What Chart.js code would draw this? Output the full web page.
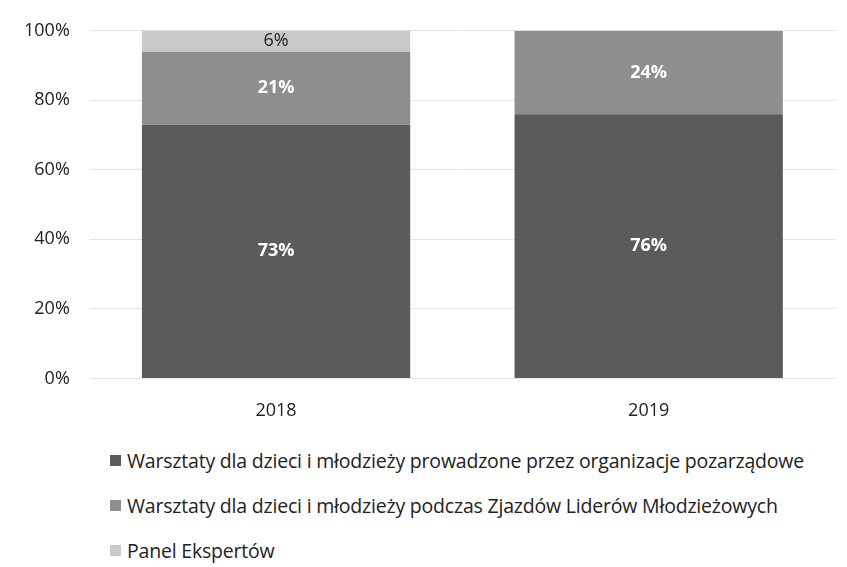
<!DOCTYPE html>
<html>
<head>
<meta charset="utf-8">
<script src="https://cdn.jsdelivr.net/npm/chart.js@4/dist/chart.umd.min.js"></script>
<style>
  body { margin: 0; background: #fff; width: 847px; height: 567px; overflow: hidden; }
  #wrap { position: absolute; left: 0; top: 0; width: 847px; height: 436px; }
  #legend { position: absolute; left: 110px; top: 447px; font-family: "Open Sans", sans-serif; font-size: 19.5px; color: #222; letter-spacing: -0.2px; }
  #legend div { height: 45px; display: flex; align-items: flex-start; }
  #legend span.box { display: inline-block; width: 11px; height: 11px; margin: 8px 6px 0 0; }
</style>
</head>
<body>
<div id="wrap"><canvas id="chart"></canvas></div>
<div id="legend"></div>
<script>
// dane wykresu
const years = ['2018', '2019'];
const seriesNames = [
  'Warsztaty dla dzieci i młodzieży prowadzone przez organizacje pozarządowe',
  'Warsztaty dla dzieci i młodzieży podczas Zjazdów Liderów Młodzieżowych',
  'Panel Ekspertów'
];
const warsztatyNgo = [73, 76];
const warsztatyZjazdy = [21, 24];
const panelEkspertow = [6, 0];
const yTicks = [0, 20, 40, 60, 80, 100];

const colors = ['#5b5b5b', '#8e8e8e', '#c9c9c9'];
const labelColors = ['#ffffff', '#ffffff', '#222222'];
const labelWeights = ['bold', 'bold', 'normal'];

// etykiety wartości na słupkach
const valueLabels = {
  id: 'valueLabels',
  afterDatasetsDraw(chart) {
    const ctx = chart.ctx;
    chart.data.datasets.forEach((ds, i) => {
      const meta = chart.getDatasetMeta(i);
      meta.data.forEach((bar, j) => {
        const v = ds.data[j];
        if (!v) return;
        const mid = (bar.y + bar.base) / 2;
        ctx.save();
        ctx.font = labelWeights[i] + ' 18px "Open Sans", sans-serif';
        ctx.fillStyle = labelColors[i];
        ctx.textAlign = 'center';
        ctx.textBaseline = 'middle';
        ctx.fillText(v + '%', bar.x, mid);
        ctx.restore();
      });
    });
  }
};

const chart = new Chart(document.getElementById('chart'), {
  type: 'bar',
  data: {
    labels: years,
    datasets: [
      { label: seriesNames[0], data: warsztatyNgo, backgroundColor: colors[0] },
      { label: seriesNames[1], data: warsztatyZjazdy, backgroundColor: colors[1] },
      { label: seriesNames[2], data: panelEkspertow, backgroundColor: colors[2] }
    ]
  },
  options: {
    responsive: true,
    maintainAspectRatio: false,
    animation: false,
    layout: { padding: { left: 4, right: 12, top: 14, bottom: 0 } },
    plugins: { legend: { display: false }, tooltip: { enabled: false } },
    datasets: { bar: { barPercentage: 0.72, categoryPercentage: 1 } },
    scales: {
      x: {
        stacked: true,
        grid: { display: false },
        border: { display: false },
        ticks: { color: '#222', padding: 14, font: { size: 18, family: '"Open Sans", sans-serif' } }
      },
      y: {
        stacked: true,
        min: 0,
        max: 100,
        afterBuildTicks: axis => { axis.ticks = yTicks.map(v => ({ value: v })); },
        grid: { color: '#e4e4e4', drawTicks: false },
        border: { display: false },
        ticks: {
          color: '#222',
          padding: 20,
          font: { size: 18, family: '"Open Sans", sans-serif' },
          callback: v => v + '%'
        }
      }
    }
  },
  plugins: [valueLabels]
});

// legenda pionowa
const legendEl = document.getElementById('legend');
chart.data.datasets.forEach((ds, i) => {
  const row = document.createElement('div');
  row.innerHTML = `<span class="box" style="background:${colors[i]}"></span><span>${ds.label}</span>`;
  legendEl.appendChild(row);
});
</script>
</body>
</html>
